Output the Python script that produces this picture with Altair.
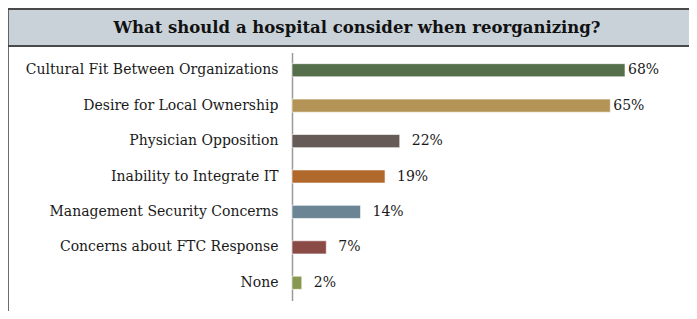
import altair as alt
import pandas as pd

categories = [
    "Cultural Fit Between Organizations",
    "Desire for Local Ownership",
    "Physician Opposition",
    "Inability to Integrate IT",
    "Management Security Concerns",
    "Concerns about FTC Response",
    "None",
]
values = [68, 65, 22, 19, 14, 7, 2]
colors = ["#556e4c", "#b39456", "#675b58", "#b0692b", "#6c8594", "#8a4a46", "#889850"]
title_text = "What should a hospital consider when reorganizing?"

df = pd.DataFrame({"category": categories, "value": values, "color": colors})
df["label"] = df["value"].astype(str) + "%"

FONT = "DejaVu Serif"

y_enc = alt.Y("category:N", sort=categories,
              scale=alt.Scale(paddingInner=0.63, paddingOuter=0.315),
              axis=alt.Axis(title=None, labelFont=FONT, labelFontSize=14, labelColor="#1a1a1a",
                            labelPadding=14, ticks=False, domainColor="#9a9a9a", domainWidth=1.5,
                            labelLimit=400))
x_enc = alt.X("value:Q", scale=alt.Scale(domain=[0, 68], nice=False), axis=None)

base = alt.Chart(df)

bars = base.mark_bar(stroke="white", strokeWidth=0.6).encode(
    y=y_enc, x=x_enc, color=alt.Color("color:N", scale=None)
)

lab_big = base.transform_filter("datum.value >= 50").mark_text(
    align="left", baseline="middle", dx=3, font=FONT, fontSize=14, color="#1a1a1a"
).encode(y=alt.Y("category:N", sort=categories), x="value:Q", text="label:N")

lab_small = base.transform_filter("datum.value < 50").mark_text(
    align="left", baseline="middle", dx=12, font=FONT, fontSize=14, color="#1a1a1a"
).encode(y=alt.Y("category:N", sort=categories), x="value:Q", text="label:N")

header = alt.Chart(pd.DataFrame({"t": [title_text]})).mark_rect(
    fill="#c9d1d9", stroke="#4a4a4a", strokeWidth=2
).encode(x=alt.value(-285), x2=alt.value(420), y=alt.value(-43.5), y2=alt.value(-6.5))

left_border = alt.Chart(pd.DataFrame({"t": [title_text]})).mark_rule(
    color="#3c3c3c", strokeWidth=2.5
).encode(x=alt.value(-284.5), y=alt.value(-43.5), y2=alt.value(300))

title = alt.Chart(pd.DataFrame({"t": [title_text]})).mark_text(
    font=FONT, fontSize=16.5, fontWeight="bold", color="#111111", align="center", baseline="middle"
).encode(x=alt.value(65), y=alt.value(-24.5), text="t:N")

chart = alt.layer(header, left_border, title, bars, lab_big, lab_small).properties(
    width=333, height=248,
    autosize=alt.AutoSizeParams(type="none"),
    padding={"left": 284, "top": 44.5, "right": 64, "bottom": 10.5},
    background="white",
).configure_view(stroke=None)

chart.save("out.html", embed_options={"renderer": "svg", "actions": False})
